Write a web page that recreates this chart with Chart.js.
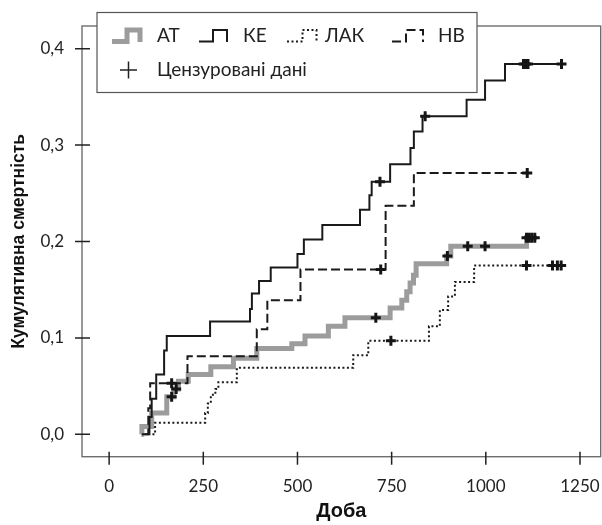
<!DOCTYPE html>
<html>
<head>
<meta charset="utf-8">
<script src="https://cdn.jsdelivr.net/npm/chart.js@4.4.1/dist/chart.umd.min.js"></script>
<style>html,body{margin:0;padding:0;background:#fff}</style>
</head>
<body>
<canvas id="km" width="602" height="525"></canvas>
<script>
// step curves: day of each jump and cumulative mortality after it
const atDays   = [85, 87, 113, 153, 172, 184, 210, 270, 330, 392, 485, 520, 582, 626, 746, 777, 790, 799, 808, 815, 896, 907, 1108, 1135];
const atVals   = [0, 0.008, 0.022, 0.039, 0.047, 0.055, 0.062, 0.070, 0.079, 0.089, 0.094, 0.102, 0.112, 0.121, 0.131, 0.139, 0.148, 0.157, 0.165, 0.177, 0.185, 0.195, 0.204, 0.204];
const keDays   = [87, 107, 113, 125, 146, 153, 268, 374, 379, 398, 429, 500, 517, 566, 666, 691, 697, 746, 800, 809, 832, 949, 998, 1051, 1201];
const keVals   = [0, 0.018, 0.037, 0.062, 0.087, 0.102, 0.117, 0.130, 0.146, 0.159, 0.173, 0.187, 0.202, 0.217, 0.233, 0.248, 0.262, 0.280, 0.297, 0.314, 0.330, 0.347, 0.367, 0.384, 0.384];
const lakDays  = [115, 122, 255, 262, 270, 282, 290, 339, 648, 688, 849, 878, 900, 918, 969, 1208];
const lakVals  = [0, 0.012, 0.022, 0.032, 0.041, 0.047, 0.054, 0.069, 0.082, 0.097, 0.112, 0.129, 0.143, 0.158, 0.175, 0.175];
const nbDays   = [95, 104, 109, 208, 392, 420, 508, 734, 809, 1110];
const nbVals   = [0, 0.027, 0.053, 0.081, 0.109, 0.139, 0.171, 0.237, 0.271, 0.271];

// censored observations (days)
const atCens  = [166, 178, 708, 898, 952, 998, 1108, 1115, 1122, 1130];
const keCens  = [719, 839, 1100, 1106, 1112, 1201];
const lakCens = [748, 1108, 1177, 1190, 1200];
const nbCens  = [166, 721, 1110];

const seriesNames = ['АТ', 'КЕ', 'ЛАК', 'НВ'];
const censorLabel = 'Цензуровані дані';
const xTicks = [0, 250, 500, 750, 1000, 1250];
const yTicks = [0, 0.1, 0.2, 0.3, 0.4];

const styles = [
  { color: '#9c9c9c', width: 5, dash: [] },
  { color: '#1a1a1a', width: 2, dash: [] },
  { color: '#1a1a1a', width: 2, dash: [2, 2.5] },
  { color: '#1a1a1a', width: 2, dash: [9, 4] }
];

const toPts = (d, v) => d.map((x, i) => ({ x, y: v[i] }));
function valueAt(days, vals, t) {
  let y = 0;
  for (let i = 0; i < days.length; i++) if (days[i] <= t) y = vals[i];
  return y;
}
const censPts = (c, d, v) => c.map(t => ({ x: t, y: valueAt(d, v, t) }));

const curves = [[atDays, atVals, atCens], [keDays, keVals, keCens], [lakDays, lakVals, lakCens], [nbDays, nbVals, nbCens]];
const datasets = [];
curves.forEach((c, i) => {
  datasets.push({
    type: 'line', label: seriesNames[i], data: toPts(c[0], c[1]), stepped: 'before',
    borderColor: styles[i].color, borderWidth: styles[i].width, borderDash: styles[i].dash,
    pointRadius: 0, fill: false, order: i === 0 ? 3 : 2
  });
});
curves.forEach((c, i) => {
  datasets.push({
    type: 'scatter', label: censorLabel, data: censPts(c[2], c[0], c[1]),
    pointStyle: 'cross', pointRadius: 5, borderColor: '#151515', borderWidth: 3,
    showLine: false, order: 1
  });
});

const frameAndLegend = {
  id: 'frameAndLegend',
  afterDraw(chart) {
    const { ctx, chartArea: a, scales: { x, y } } = chart;
    ctx.save();
    ctx.strokeStyle = '#6e6e6e';
    ctx.lineWidth = 1.4;
    ctx.strokeRect(a.left, a.top, a.right - a.left, a.bottom - a.top);
    ctx.strokeStyle = '#222';
    ctx.lineWidth = 1.5;
    ctx.beginPath();
    xTicks.forEach(v => { const px = x.getPixelForValue(v); ctx.moveTo(px, a.bottom - 5); ctx.lineTo(px, a.bottom + 8); });
    yTicks.forEach(v => { const py = y.getPixelForValue(v); ctx.moveTo(a.left - 7, py); ctx.lineTo(a.left + 8, py); });
    ctx.stroke();

    // legend box
    ctx.fillStyle = '#fff';
    ctx.fillRect(97, 12.5, 380, 80);
    ctx.strokeStyle = '#555';
    ctx.lineWidth = 1.2;
    ctx.strokeRect(97, 12.5, 380, 80);
    const icons = [[112, 127, 140], [199, 213, 227], [287, 302.5, 316.5], [392, 406, 423]];
    const textX = [157, 243, 325, 438];
    ctx.font = '19px Lato';
    ctx.textBaseline = 'alphabetic';
    icons.forEach((ic, i) => {
      const s = styles[i];
      ctx.strokeStyle = s.color;
      ctx.lineWidth = s.width;
      ctx.setLineDash(s.dash);
      ctx.beginPath();
      ctx.moveTo(ic[0], 41.5); ctx.lineTo(ic[1], 41.5); ctx.lineTo(ic[1], 30);
      ctx.lineTo(ic[2], 30); ctx.lineTo(ic[2], 42);
      ctx.stroke();
      ctx.setLineDash([]);
      ctx.fillStyle = '#222';
      ctx.fillText(seriesNames[i], textX[i], 42);
    });
    ctx.strokeStyle = '#222';
    ctx.lineWidth = 1.5;
    ctx.beginPath();
    ctx.moveTo(120, 70); ctx.lineTo(137, 70);
    ctx.moveTo(128.5, 61.5); ctx.lineTo(128.5, 78.5);
    ctx.stroke();
    ctx.fillText(censorLabel, 157, 75.5);
    ctx.restore();
  }
};

new Chart(document.getElementById('km'), {
  data: { datasets },
  options: {
    responsive: false,
    animation: false,
    layout: { autoPadding: false, padding: { top: 26, right: 1.3, left: 0, bottom: 0 } },
    plugins: { legend: { display: false }, tooltip: { enabled: false } },
    scales: {
      x: {
        type: 'linear', position: 'bottom', min: -72, max: 1305,
        grid: { display: false, drawTicks: false }, border: { display: false },
        afterBuildTicks: s => { s.ticks = xTicks.map(v => ({ value: v })); },
        afterFit: s => { s.height = 68.3; s.paddingLeft = 0; s.paddingRight = 0; },
        ticks: { font: { family: 'Lato', size: 17 }, color: '#222', padding: 20, maxRotation: 0, callback: v => String(v) },
        title: { display: true, text: 'Доба', font: { family: 'Liberation Sans', size: 20, weight: 'bold' }, color: '#111', padding: { top: 0, bottom: 2 } }
      },
      y: {
        type: 'linear', min: -0.0232, max: 0.4235,
        grid: { display: false, drawTicks: false }, border: { display: false },
        afterBuildTicks: s => { s.ticks = yTicks.map(v => ({ value: v })); },
        afterFit: s => { s.width = 82; s.paddingTop = 0; s.paddingBottom = 0; },
        ticks: { font: { family: 'Lato', size: 17 }, color: '#222', padding: 18, callback: v => v.toFixed(1).replace('.', ',') },
        title: { display: true, text: 'Кумулятивна смертність', font: { family: 'Liberation Sans', size: 17.5, weight: 'bold' }, color: '#111', padding: { top: 9, bottom: 0 } }
      }
    }
  },
  plugins: [frameAndLegend]
});
</script>
</body>
</html>
